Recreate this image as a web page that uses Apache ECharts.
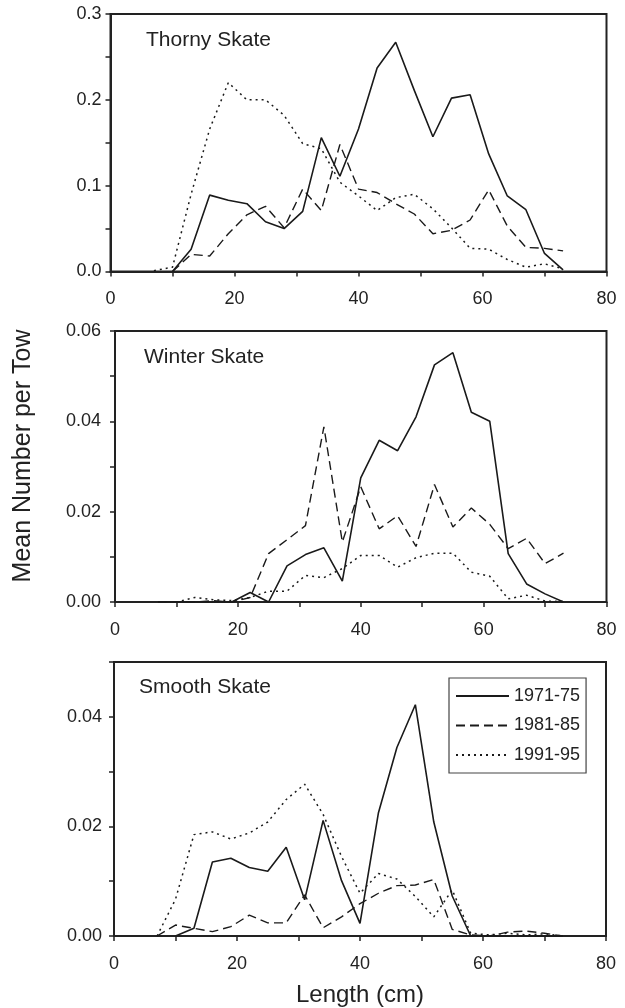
<!DOCTYPE html>
<html>
<head>
<meta charset="utf-8">
<script src="https://cdn.jsdelivr.net/npm/echarts@6/dist/echarts.min.js"></script>
<style>
  html, body { margin: 0; padding: 0; background: #fff; }
  #skates { width: 625px; height: 1008px; }
</style>
</head>
<body>
<div id="skates"></div>
<script>
// length bins (cm), 3 cm classes
var lengths = [7, 10, 13, 16, 19, 22, 25, 28, 31, 34, 37, 40, 43, 46, 49, 52, 55, 58, 61, 64, 67, 70, 73];

var periods = ['1971-75', '1981-85', '1991-95'];
var panelNames = ['Thorny Skate', 'Winter Skate', 'Smooth Skate'];

// thorny skate
var thorny71 = [null, 0, 0.026, 0.089, 0.083, 0.079, 0.058, 0.050, 0.070, 0.156, 0.111, 0.166, 0.237, 0.267, 0.211, 0.157, 0.202, 0.206, 0.137, 0.088, 0.072, 0.021, 0.002];
var thorny81 = [null, 0, 0.020, 0.018, 0.044, 0.066, 0.076, 0.051, 0.096, 0.071, 0.148, 0.096, 0.092, 0.079, 0.067, 0.044, 0.048, 0.060, 0.095, 0.053, 0.028, 0.027, 0.024];
var thorny91 = [0.001, 0.005, 0.090, 0.166, 0.220, 0.200, 0.200, 0.182, 0.149, 0.143, 0.104, 0.088, 0.071, 0.086, 0.090, 0.073, 0.051, 0.027, 0.026, 0.014, 0.005, 0.009, 0.003];

// winter skate
var winter71 = [0, 0, 0, 0, 0, 0.0021, 0, 0.0080, 0.0105, 0.0120, 0.0046, 0.0275, 0.0358, 0.0335, 0.0410, 0.0525, 0.0552, 0.0420, 0.0400, 0.0107, 0.0040, 0.0018, 0];
var winter81 = [0, 0, 0, 0.0003, 0, 0.0010, 0.0107, 0.0138, 0.0169, 0.0388, 0.0133, 0.0255, 0.0162, 0.0191, 0.0123, 0.0260, 0.0166, 0.0208, 0.0172, 0.0118, 0.0141, 0.0085, 0.0108];
var winter91 = [0, 0, 0.0010, 0.0005, 0.0003, 0.0010, 0.0024, 0.0024, 0.0059, 0.0054, 0.0074, 0.0103, 0.0103, 0.0077, 0.0098, 0.0108, 0.0108, 0.0066, 0.0057, 0.0007, 0.0015, 0.0002, 0.0001];

// smooth skate
var smooth71 = [null, 0, 0.0014, 0.0135, 0.0142, 0.0125, 0.0118, 0.0162, 0.0066, 0.0211, 0.0101, 0.0023, 0.0225, 0.0344, 0.0422, 0.0208, 0.0073, 0, 0, 0, 0, 0, 0];
var smooth81 = [0, 0.0020, 0.0014, 0.0008, 0.0017, 0.0038, 0.0024, 0.0024, 0.0075, 0.0015, 0.0035, 0.0059, 0.0078, 0.0092, 0.0093, 0.0103, 0.0012, 0.0002, 0, 0.0007, 0.0009, 0.0005, 0];
var smooth91 = [0, 0.0067, 0.0185, 0.0190, 0.0177, 0.0188, 0.0208, 0.0249, 0.0277, 0.0222, 0.0145, 0.0078, 0.0114, 0.0104, 0.0072, 0.0035, 0.0084, 0.0005, 0.0002, 0.0005, 0.0002, 0.0004, 0];

var yMax = [0.3, 0.06, 0.05];
var yStep = [0.05, 0.01, 0.01];
var yLabelStep = [0.1, 0.02, 0.02];
var yDigits = [1, 2, 2];

var font = 'Arial, "Liberation Sans", Helvetica, sans-serif';
var ink = '#222';

var grids = [
    {left: 110.5, right: 18.5, top: 14, height: 257.5},
    {left: 115, right: 18.5, top: 331, height: 271},
    {left: 114, right: 19, top: 662, height: 274.5}
];
var labelMargin = [9, 14, 12];

var lineStyles = [
    {type: 'solid', width: 1.6},
    {type: [9, 5], width: 1.4},
    {type: [2, 4], width: 1.5}
];

function onStep(v, step) {
    var r = v / step;
    return Math.abs(r - Math.round(r)) < 1e-6;
}

function points(vals) {
    var out = [];
    lengths.forEach(function (x, i) {
        if (vals[i] !== null) out.push([x, vals[i]]);
    });
    return out;
}

var panels = [
    [thorny71, thorny81, thorny91],
    [winter71, winter81, winter91],
    [smooth71, smooth81, smooth91]
];

var xAxes = [], yAxes = [], series = [], titles = [];

grids.forEach(function (g, gi) {
    g.show = true;
    g.borderColor = ink;
    g.borderWidth = 2;
    g.containLabel = false;

    xAxes.push({
        type: 'value', gridIndex: gi, min: 0, max: 80, interval: 10,
        splitLine: {show: false},
        axisLine: {show: true, lineStyle: {color: ink, width: 2}},
        axisTick: {show: true, length: 5, lineStyle: {color: ink, width: 1.5}},
        axisLabel: {
            margin: 19, color: ink, fontSize: 18, fontFamily: font,
            formatter: function (v) { return v % 20 === 0 ? String(v) : ''; }
        },
        name: gi === 2 ? 'Length (cm)' : '',
        nameLocation: 'middle', nameGap: 47,
        nameTextStyle: {fontSize: 24, color: ink, fontFamily: font}
    });

    yAxes.push({
        type: 'value', gridIndex: gi, min: 0, max: yMax[gi], interval: yStep[gi],
        splitLine: {show: false},
        axisLine: {show: true, lineStyle: {color: ink, width: 2}},
        axisTick: {show: true, length: 5, lineStyle: {color: ink, width: 1.5}},
        axisLabel: {
            margin: labelMargin[gi], color: ink, fontSize: 18, fontFamily: font,
            formatter: function (v) {
                return onStep(v, yLabelStep[gi]) ? v.toFixed(yDigits[gi]) : '';
            }
        }
    });

    panels[gi].forEach(function (vals, si) {
        series.push({
            name: periods[si], type: 'line',
            xAxisIndex: gi, yAxisIndex: gi,
            data: points(vals),
            symbol: 'none', showSymbol: false,
            lineStyle: {color: '#1a1a1a', type: lineStyles[si].type, width: lineStyles[si].width},
            itemStyle: {color: '#1a1a1a'},
            z: 3 - si
        });
    });
});

titles = [
    {text: panelNames[0], left: 146, top: 30},
    {text: panelNames[1], left: 144, top: 347},
    {text: panelNames[2], left: 139, top: 677}
].map(function (t) {
    t.padding = 0;
    t.textStyle = {fontSize: 21, fontWeight: 'normal', color: ink, fontFamily: font};
    return t;
});

var option = {
    animation: false,
    backgroundColor: '#fff',
    title: titles,
    grid: grids,
    xAxis: xAxes,
    yAxis: yAxes,
    legend: {
        data: periods,
        orient: 'vertical',
        left: 449, top: 678,
        padding: [9, 6, 9, 6],
        itemGap: 11.5,
        itemWidth: 53, itemHeight: 18,
        borderColor: '#444', borderWidth: 1.2,
        itemStyle: {opacity: 0},
        textStyle: {fontSize: 18, color: ink, fontFamily: font},
        selectedMode: false
    },
    graphic: [{
        type: 'text',
        x: 23, y: 456,
        rotation: Math.PI / 2,
        style: {
            text: 'Mean Number per Tow',
            fill: ink, font: '25px ' + font,
            align: 'center', verticalAlign: 'middle'
        }
    }],
    series: series
};

var myChart = echarts.init(document.getElementById('skates'));
myChart.setOption(option);
</script>
</body>
</html>
